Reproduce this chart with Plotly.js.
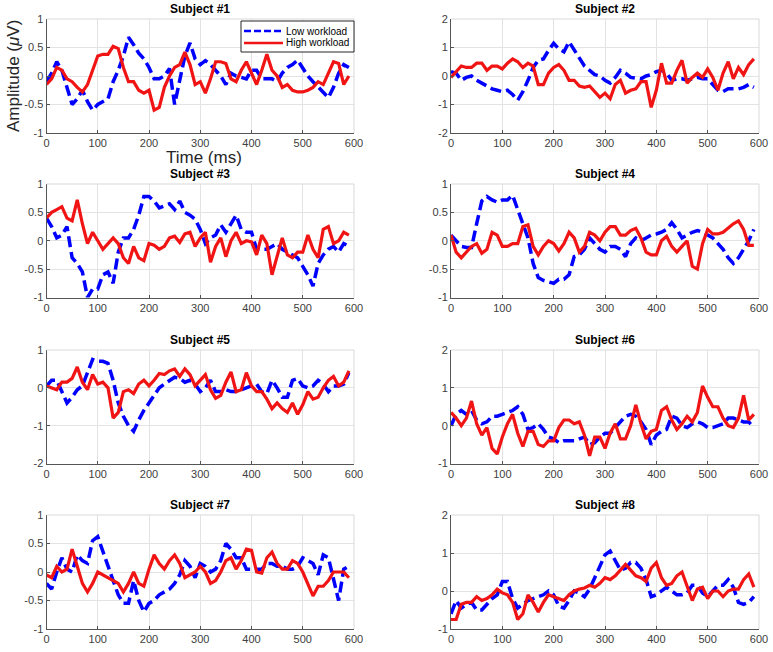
<!DOCTYPE html>
<html>
<head>
<meta charset="utf-8">
<script src="https://cdn.plot.ly/plotly-3.0.1.min.js"></script>
<style>html,body{margin:0;padding:0;background:#fff;}#chart{width:773px;height:652px;}</style>
</head>
<body>
<div id="chart"></div>
<script>
// Time axis (ms)
const timeMs = [0,10,20,30,40,50,60,70,80,90,100,110,120,130,140,150,160,170,180,190,200,210,220,230,240,250,260,270,280,290,300,310,320,330,340,350,360,370,380,390,400,410,420,430,440,450,460,470,480,490,500,510,520,530,540,550,560,570,580,590];

const subjectTitles = ["Subject #1","Subject #2","Subject #3","Subject #4","Subject #5","Subject #6","Subject #7","Subject #8"];
const seriesNames = ["Low workload","High workload"];

// Subject 1
const s1Low  = [-0.1,0.05,0.25,0.1,-0.2,-0.5,-0.4,-0.25,-0.45,-0.6,-0.5,-0.45,-0.4,-0.1,0.1,0.35,0.68,0.55,0.4,0.3,0.15,-0.05,-0.05,0.0,0.13,-0.5,-0.1,0.35,0.58,0.3,0.2,0.27,0.2,0.1,0.0,-0.15,0.05,0.0,-0.03,-0.05,0.1,0.1,-0.05,-0.05,-0.05,-0.1,0.05,0.15,0.2,0.28,0.15,0.0,-0.1,-0.2,-0.3,-0.38,-0.2,0.05,0.2,0.15];
const s1High = [-0.15,-0.05,0.15,0.1,-0.05,-0.1,-0.2,-0.28,-0.15,0.1,0.35,0.38,0.38,0.52,0.48,0.15,-0.1,-0.1,-0.25,-0.3,-0.25,-0.6,-0.55,-0.2,0.0,0.15,0.2,0.42,0.2,-0.15,-0.1,-0.3,-0.05,0.25,0.25,0.22,-0.05,-0.1,0.1,0.25,0.05,-0.15,0.1,0.38,0.1,0.0,-0.2,-0.15,-0.25,-0.28,-0.28,-0.25,-0.2,-0.1,-0.15,0.05,0.25,0.22,-0.15,0.0];
// Subject 2
const s2Low  = [0.15,0.1,-0.15,-0.05,0.0,-0.15,-0.25,-0.35,-0.45,-0.5,-0.55,-0.5,-0.65,-0.85,-0.55,-0.15,0.3,0.55,0.6,0.9,1.15,0.95,0.85,1.2,0.9,0.6,0.35,0.2,0.05,0.0,-0.15,-0.25,-0.05,0.2,0.1,-0.05,-0.08,-0.1,0.0,0.05,0.15,0.2,0.1,-0.15,-0.1,-0.1,-0.15,-0.1,-0.05,-0.1,-0.1,-0.3,-0.5,-0.55,-0.45,-0.45,-0.45,-0.4,-0.3,-0.4];
const s2High = [-0.05,0.15,0.35,0.3,0.3,0.45,0.45,0.2,0.35,0.35,0.25,0.45,0.6,0.5,0.3,0.45,0.35,-0.3,-0.3,0.1,0.3,0.4,0.2,-0.15,-0.15,-0.35,-0.4,-0.35,-0.55,-0.75,-0.6,-0.8,-0.3,-0.15,-0.6,-0.5,-0.45,-0.2,-0.2,-1.1,-0.5,0.45,-0.25,-0.25,0.2,0.55,-0.25,-0.05,0.1,-0.05,0.25,-0.05,-0.5,0.1,0.5,-0.1,0.3,0.05,0.4,0.6];
// Subject 3
const s3Low  = [0.4,0.25,0.05,0.1,0.25,-0.3,-0.4,-0.55,-1.0,-0.85,-0.85,-0.6,-0.55,-0.75,-0.2,0.05,0.05,0.2,0.45,0.78,0.78,0.7,0.58,0.62,0.65,0.55,0.7,0.5,0.45,0.38,0.2,-0.05,0.05,0.1,0.28,0.15,0.3,0.45,0.2,0.15,0.15,-0.15,-0.15,-0.15,-0.1,-0.05,-0.15,-0.2,-0.25,-0.3,-0.45,-0.6,-0.8,-0.4,-0.25,-0.15,-0.1,-0.2,-0.05,-0.1];
const s3High = [0.4,0.5,0.55,0.6,0.4,0.35,0.72,0.3,-0.05,0.15,0.0,-0.15,-0.05,0.05,-0.05,-0.3,-0.4,-0.1,-0.3,-0.35,-0.05,-0.08,-0.15,-0.1,0.05,0.08,-0.03,0.12,0.15,-0.1,0.05,0.15,-0.38,-0.1,0.05,-0.28,0.0,0.15,-0.05,0.0,-0.02,-0.25,0.1,-0.05,-0.6,-0.25,0.05,-0.25,-0.3,-0.2,-0.2,0.1,-0.15,-0.3,0.2,0.25,-0.05,0.0,0.15,0.1];
// Subject 4
const s4Low  = [0.1,0.0,-0.1,-0.12,-0.12,0.3,0.7,0.78,0.72,0.68,0.72,0.72,0.8,0.55,0.3,0.05,-0.4,-0.65,-0.7,-0.72,-0.75,-0.68,-0.68,-0.6,-0.28,-0.25,-0.15,0.05,-0.05,-0.15,-0.2,-0.1,-0.1,-0.15,-0.28,-0.05,0.05,0.0,0.05,0.1,0.12,0.15,0.2,0.32,0.2,0.05,0.1,0.15,0.18,0.15,0.1,0.05,-0.05,-0.15,-0.3,-0.4,-0.3,-0.15,0.0,0.2];
const s4High = [0.1,-0.2,-0.3,-0.2,-0.1,-0.05,-0.22,-0.15,0.15,0.1,-0.1,-0.1,-0.05,-0.05,0.25,0.28,-0.1,-0.25,-0.1,0.0,-0.05,-0.18,-0.05,0.15,0.05,-0.2,-0.1,0.15,0.1,0.0,0.15,0.25,0.25,0.1,0.1,0.18,0.22,0.05,-0.2,-0.25,-0.25,0.0,0.08,-0.1,-0.2,-0.1,0.0,-0.45,-0.5,-0.05,0.2,0.12,0.12,0.15,0.22,0.3,0.35,0.2,-0.08,-0.08];
// Subject 5
const s5Low  = [0.05,0.2,0.2,-0.1,-0.4,-0.25,-0.05,0.05,0.4,0.75,0.7,0.7,0.65,0.2,-0.4,-0.75,-1.0,-1.15,-0.85,-0.6,-0.4,-0.2,0.0,0.1,0.2,0.28,0.25,0.15,0.2,0.1,-0.1,0.0,0.2,-0.1,-0.1,-0.05,-0.1,-0.1,-0.05,0.0,0.05,0.1,-0.1,-0.15,0.2,0.0,-0.25,-0.25,0.2,0.25,0.05,0.0,0.05,0.2,0.1,-0.1,0.05,0.05,0.1,0.4];
const s5High = [0.05,0.0,-0.05,0.15,0.15,0.25,0.55,0.15,-0.05,0.35,0.1,0.15,0.0,-0.8,-0.65,-0.1,-0.05,-0.15,0.1,0.2,0.05,0.2,0.38,0.35,0.45,0.5,0.3,0.5,0.35,0.05,0.2,0.35,-0.05,-0.28,-0.2,0.15,0.42,-0.1,-0.05,0.4,0.05,-0.1,-0.1,-0.3,-0.55,-0.4,-0.55,-0.65,-0.4,-0.7,-0.45,-0.1,-0.3,-0.25,0.0,0.2,0.3,0.05,0.15,0.45];
// Subject 6
const s6Low  = [0.0,0.3,0.4,0.3,0.4,0.15,0.05,0.1,0.25,0.25,0.3,0.35,0.4,0.5,0.3,-0.1,-0.05,0.05,-0.1,-0.3,-0.35,-0.45,-0.4,-0.4,-0.4,-0.35,-0.3,-0.5,-0.45,-0.3,-0.2,-0.2,-0.05,0.1,0.25,0.3,0.25,0.1,-0.1,-0.5,-0.25,-0.15,-0.1,0.25,0.2,0.0,-0.05,0.05,0.1,0.05,-0.05,-0.05,0.0,0.05,0.2,0.2,0.15,0.1,0.1,-0.05];
const s6High = [0.35,0.2,0.0,0.2,0.65,0.05,-0.25,-0.05,-0.6,-0.75,-0.3,0.05,0.3,-0.2,-0.55,-0.15,-0.15,-0.5,-0.55,-0.4,-0.4,-0.05,0.15,0.15,0.05,0.1,-0.25,-0.8,-0.3,-0.3,-0.6,-0.2,0.05,-0.35,-0.35,0.0,0.55,0.05,-0.35,-0.15,-0.1,0.4,0.5,0.15,-0.1,0.05,0.25,0.1,0.35,1.05,0.75,0.5,0.5,0.2,0.0,-0.05,0.2,0.8,0.15,0.3];
// Subject 7
const s7Low  = [-0.2,-0.3,0.0,0.25,0.05,0.0,0.3,0.2,0.15,0.55,0.62,0.35,0.1,-0.15,-0.4,-0.55,-0.55,-0.15,-0.5,-0.7,-0.55,-0.5,-0.4,-0.35,-0.3,-0.2,-0.05,0.2,0.1,-0.1,0.15,0.1,0.0,0.05,0.2,0.5,0.4,0.25,0.25,0.05,0.05,0.05,0.05,0.15,0.15,0.1,0.1,0.05,0.05,0.1,0.25,0.2,0.15,-0.05,0.3,0.25,-0.1,-0.5,0.05,0.1];
const s7High = [-0.05,-0.1,0.1,0.0,0.05,0.4,0.1,-0.2,-0.35,-0.2,0.0,-0.05,-0.1,-0.15,-0.2,-0.35,-0.2,0.0,-0.2,-0.25,0.05,0.3,0.15,0.05,0.2,0.3,0.15,-0.1,-0.05,0.0,0.1,0.0,-0.2,-0.15,0.0,0.2,0.25,0.05,0.2,0.4,0.38,0.0,-0.02,0.25,0.35,0.15,0.05,0.05,0.2,0.15,0.0,-0.2,-0.42,-0.25,-0.25,-0.15,0.0,0.0,0.0,-0.1];
// Subject 8
const s8Low  = [-0.6,-0.25,-0.45,-0.35,-0.3,-0.5,-0.5,-0.35,-0.2,-0.1,0.25,0.25,-0.2,-0.45,-0.35,-0.25,-0.2,-0.15,-0.1,0.0,-0.1,-0.4,-0.45,-0.25,0.0,-0.05,-0.15,0.05,0.35,0.6,0.95,1.05,0.8,0.55,0.6,0.75,0.75,0.6,0.3,-0.15,-0.1,0.0,0.1,0.0,-0.1,-0.1,-0.05,0.15,0.15,-0.05,-0.15,0.0,0.15,0.15,0.3,0.1,-0.3,-0.35,-0.3,-0.15];
const s8High = [-0.75,-0.75,-0.35,-0.3,-0.3,-0.15,-0.25,-0.2,-0.1,0.05,-0.05,-0.1,-0.3,-0.75,-0.6,-0.1,-0.3,-0.55,-0.3,-0.1,-0.15,-0.2,-0.25,-0.1,0.0,0.05,0.08,0.15,0.1,0.2,0.35,0.3,0.4,0.55,0.7,0.55,0.4,0.35,0.25,0.6,0.75,0.35,0.15,0.2,0.4,0.5,0.1,-0.25,0.05,0.1,-0.2,0.0,0.0,-0.15,0.0,0.05,0.05,0.3,0.45,0.1];

const lowSeries  = [s1Low,s2Low,s3Low,s4Low,s5Low,s6Low,s7Low,s8Low];
const highSeries = [s1High,s2High,s3High,s4High,s5High,s6High,s7High,s8High];

// Axis ticks
const xTicks = [0,100,200,300,400,500,600];
const yTicksA = [-1,-0.5,0,0.5,1];
const yTicksB = [-2,-1,0,1,2];
const yTicksC = [-2,-1,0,1];
const yTicksD = [-1,0,1,2];
const yTickSets = [yTicksA,yTicksB,yTicksA,yTicksA,yTicksC,yTicksD,yTicksA,yTicksD];

const W = 773, H = 652;
const colX = [[46.5,354],[451,759]];
const rowY = [[19,133],[184,297.5],[350,463.5],[515,629]];
const LOW_COLOR = "rgb(0,0,255)", HIGH_COLOR = "rgb(240,20,20)";
const LOW_DASH = "11px,5px";

const FONT = "Liberation Sans, Arial, Helvetica, sans-serif";
const traces = [];
const layout = {
  width: W, height: H,
  margin: {l:0,r:0,t:0,b:0},
  paper_bgcolor: "#ffffff",
  plot_bgcolor: "#ffffff",
  font: {family: FONT, color: "#404040", size: 11},
  showlegend: false,
  annotations: [],
  shapes: []
};

for (let i = 0; i < 8; i++) {
  const col = i % 2, row = Math.floor(i / 2);
  const sfx = i === 0 ? "" : String(i + 1);
  const xd = [colX[col][0] / W, colX[col][1] / W];
  const yd = [1 - rowY[row][1] / H, 1 - rowY[row][0] / H];
  const yt = yTickSets[i];
  layout["xaxis" + sfx] = {
    domain: xd, anchor: "y" + sfx, range: [0, 600],
    tickvals: xTicks, ticktext: xTicks.map(String),
    showgrid: true, gridcolor: "#e3e3e3", gridwidth: 1,
    zeroline: false, showline: true, linecolor: "#555", linewidth: 1,
    ticks: "inside", ticklen: 3, tickcolor: "#555",
    tickfont: {family: FONT, size: 11, color: "#404040"}, fixedrange: true
  };
  layout["yaxis" + sfx] = {
    domain: yd, anchor: "x" + sfx, range: [yt[0], yt[yt.length - 1]],
    tickvals: yt, ticktext: yt.map(String),
    showgrid: true, gridcolor: "#e3e3e3", gridwidth: 1,
    zeroline: false, showline: true, linecolor: "#555", linewidth: 1,
    ticks: "inside", ticklen: 3, tickcolor: "#555",
    tickfont: {family: FONT, size: 11, color: "#404040"}, fixedrange: true
  };
  layout.shapes.push({type:"line", xref:"paper", yref:"paper", x0:xd[0], x1:xd[1], y0:yd[1], y1:yd[1], line:{color:"#d9d9d9", width:1}});
  layout.shapes.push({type:"line", xref:"paper", yref:"paper", x0:xd[1], x1:xd[1], y0:yd[0], y1:yd[1], line:{color:"#d9d9d9", width:1}});
  layout.annotations.push({
    text: "<b>" + subjectTitles[i] + "</b>", xref: "paper", yref: "paper",
    x: (xd[0] + xd[1]) / 2, y: yd[1] + 1/H, xanchor: "center", yanchor: "bottom",
    showarrow: false, font: {family: FONT, size: 12, color: "#000"}
  });
  traces.push({
    x: timeMs, y: lowSeries[i], type: "scatter", mode: "lines",
    name: seriesNames[0], xaxis: "x" + sfx, yaxis: "y" + sfx,
    line: {color: LOW_COLOR, width: 3.5, dash: LOW_DASH}, hoverinfo: "skip"
  });
  traces.push({
    x: timeMs, y: highSeries[i], type: "scatter", mode: "lines",
    name: seriesNames[1], xaxis: "x" + sfx, yaxis: "y" + sfx,
    line: {color: HIGH_COLOR, width: 3.2}, hoverinfo: "skip"
  });
}

// Compact MATLAB-style legend in subplot 1 (drawn in paper coordinates)
const px = v => v / W, py = v => 1 - v / H;
layout.shapes.push({type:"rect", xref:"paper", yref:"paper", x0:px(241), x1:px(354), y0:py(52), y1:py(21),
  fillcolor:"#ffffff", line:{color:"#262626", width:1}, layer:"above"});
layout.shapes.push({type:"line", xref:"paper", yref:"paper", x0:px(244), x1:px(283), y0:py(31), y1:py(31),
  line:{color:LOW_COLOR, width:2.5, dash:"7px,3px"}, layer:"above"});
layout.shapes.push({type:"line", xref:"paper", yref:"paper", x0:px(244), x1:px(283), y0:py(43), y1:py(43),
  line:{color:HIGH_COLOR, width:2.5}, layer:"above"});
layout.annotations.push({text: seriesNames[0], xref:"paper", yref:"paper", x:px(284), y:py(31),
  xanchor:"left", yanchor:"middle", showarrow:false, font:{family:FONT, size:10, color:"#000"}});
layout.annotations.push({text: seriesNames[1], xref:"paper", yref:"paper", x:px(284), y:py(43),
  xanchor:"left", yanchor:"middle", showarrow:false, font:{family:FONT, size:10, color:"#000"}});

// Axis labels
layout.annotations.push({
  text: "Amplitude (<i>μ</i>V)", xref: "paper", yref: "paper",
  x: 13/W, y: 1 - 76/H, xanchor: "center", yanchor: "middle", textangle: -90,
  showarrow: false, font: {family: FONT, size: 17, color: "#262626"}
});
layout.annotations.push({
  text: "Time (ms)", xref: "paper", yref: "paper",
  x: 204/W, y: 1 - 157/H, xanchor: "center", yanchor: "middle",
  showarrow: false, font: {family: FONT, size: 17, color: "#262626"}
});

Plotly.newPlot("chart", traces, layout, {displayModeBar: false, staticPlot: true});
</script>
</body>
</html>
